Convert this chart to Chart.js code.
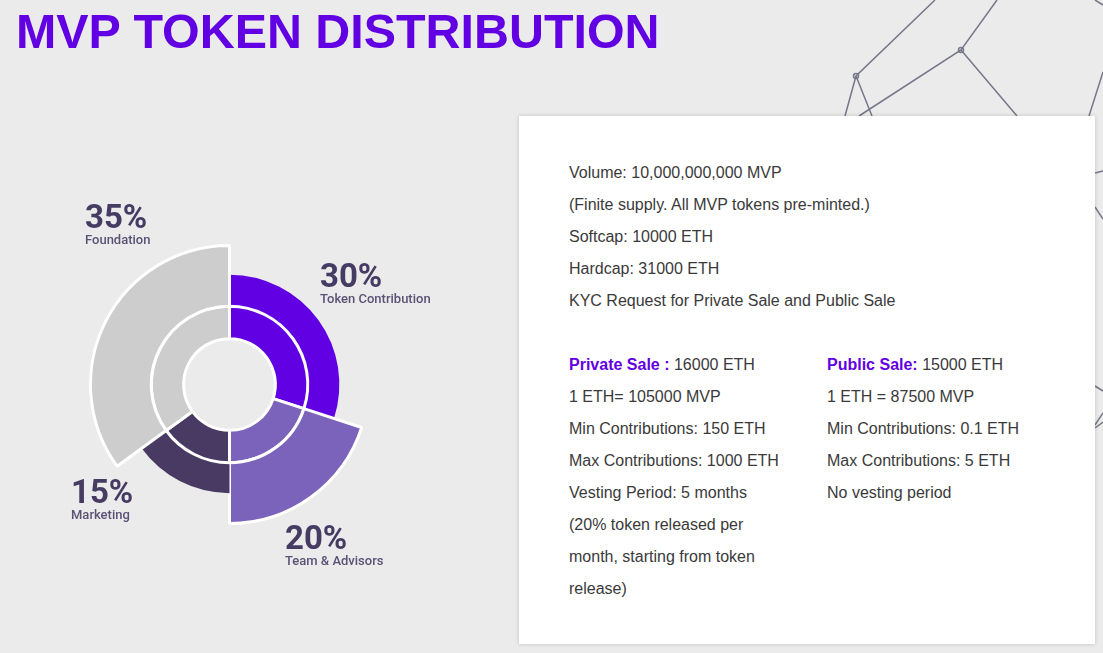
<!DOCTYPE html>
<html>
<head>
<meta charset="utf-8">
<title>MVP Token Distribution</title>
<script src="https://cdn.jsdelivr.net/npm/chart.js@4"></script>
<style>
  html, body { margin: 0; padding: 0; }
  body { width: 1103px; height: 653px; background: #ebebeb; position: relative; overflow: hidden; font-family: "Liberation Sans", Arial, sans-serif; }
  h1 { position: absolute; left: 16px; top: 3px; margin: 0; font-size: 48.4px; line-height: 56px; font-weight: bold; color: #6200e4; white-space: nowrap; }
  #deco { position: absolute; left: 0; top: 0; }
  #deco path { fill: none; stroke: #77778a; stroke-width: 1.5; }
  #deco circle { fill: none; stroke: #77778a; stroke-width: 1.5; }
  #card { position: absolute; left: 519px; top: 116px; width: 576px; height: 528px; background: #fff; box-shadow: 0 0 4px rgba(0,0,0,.18); color: #3a3a3a; font-size: 16px; line-height: 32px; }
  #card div { position: absolute; white-space: nowrap; }
  #card b { color: #6200e4; }
  #chartBox { position: absolute; left: 88.5px; top: 243.5px; width: 281px; height: 281px; }
  .lab { position: absolute; color: #453b63; font-family: Roboto, sans-serif; white-space: nowrap; }
  .lab span { display: block; font-size: 33px; line-height: 32px; font-weight: 700; }
  .lab small { display: block; font-size: 13px; line-height: 14px; font-weight: 500; color: #5a5175; }
</style>
</head>
<body>
<svg id="deco" width="1103" height="653">
  <path d="M935 0L856 76L845 116M856 76L872 116M997 0L961 50L859 116M961 50L1017 116M1103 72L1089 116M1095 0L1103 5"/>
  <path d="M1095 173L1103 171M1095 207L1103 219M1095 386L1103 391M1095 425L1103 413M1095 428L1103 422"/>
  <circle cx="856" cy="76" r="2.5"/>
  <circle cx="961" cy="50" r="2.5"/>
</svg>
<h1>MVP TOKEN DISTRIBUTION</h1>

<div id="chartBox"><canvas id="tokenChart"></canvas></div>

<div class="lab" style="left:85px;top:201px"><span>35%</span><small>Foundation</small></div>
<div class="lab" style="left:320px;top:260px"><span>30%</span><small>Token Contribution</small></div>
<div class="lab" style="left:71px;top:476px"><span>15%</span><small>Marketing</small></div>
<div class="lab" style="left:285px;top:522px"><span>20%</span><small>Team &amp; Advisors</small></div>

<div id="card">
  <div style="left:50px;top:41px">
    Volume: 10,000,000,000 MVP<br>
    (Finite supply. All MVP tokens pre-minted.)<br>
    Softcap: 10000 ETH<br>
    Hardcap: 31000 ETH<br>
    KYC Request for Private Sale and Public Sale
  </div>
  <div style="left:50px;top:233px">
    <b>Private Sale :</b> 16000 ETH<br>
    1 ETH= 105000 MVP<br>
    Min Contributions: 150 ETH<br>
    Max Contributions: 1000 ETH<br>
    Vesting Period: 5 months<br>
    (20% token released per<br>
    month, starting from token<br>
    release)
  </div>
  <div style="left:308px;top:233px">
    <b>Public Sale:</b> 15000 ETH<br>
    1 ETH = 87500 MVP<br>
    Min Contributions: 0.1 ETH<br>
    Max Contributions: 5 ETH<br>
    No vesting period
  </div>
</div>

<script>
const labels = ['Token Contribution', 'Team & Advisors', 'Marketing', 'Foundation'];
const shares = [30, 20, 15, 35];
const colors = ['#6200e4', '#7b62ba', '#483a63', '#cdcdcd'];
// how far each slice reaches across the outer ring (1 = full width)
const outerReach = [0.52, 1, 0.5, 1];
const ringBorder = 3;

// short slices have no white outline in the picture, the tall neighbours draw the separators
const varyOuterRadius = {
  id: 'varyOuterRadius',
  afterDatasetsUpdate(chart) {
    chart.getDatasetMeta(0).data.forEach((arc, i) => {
      arc.outerRadius = arc.innerRadius + (arc.outerRadius - arc.innerRadius) * outerReach[i];
      if (outerReach[i] < 1) arc.innerRadius += ringBorder / 2;
    });
  }
};

new Chart(document.getElementById('tokenChart'), {
  type: 'doughnut',
  data: {
    labels: labels,
    datasets: [
      { data: shares, backgroundColor: colors, borderColor: '#fff', borderWidth: [0, ringBorder, 0, ringBorder], weight: 60 },
      { data: shares, backgroundColor: colors, borderColor: '#fff', borderWidth: ringBorder, weight: 32 }
    ]
  },
  options: {
    responsive: true,
    maintainAspectRatio: false,
    animation: false,
    cutout: '33%',
    layout: { padding: 0 },
    plugins: { legend: { display: false }, tooltip: { enabled: false } }
  },
  plugins: [varyOuterRadius]
});
</script>
</body>
</html>
